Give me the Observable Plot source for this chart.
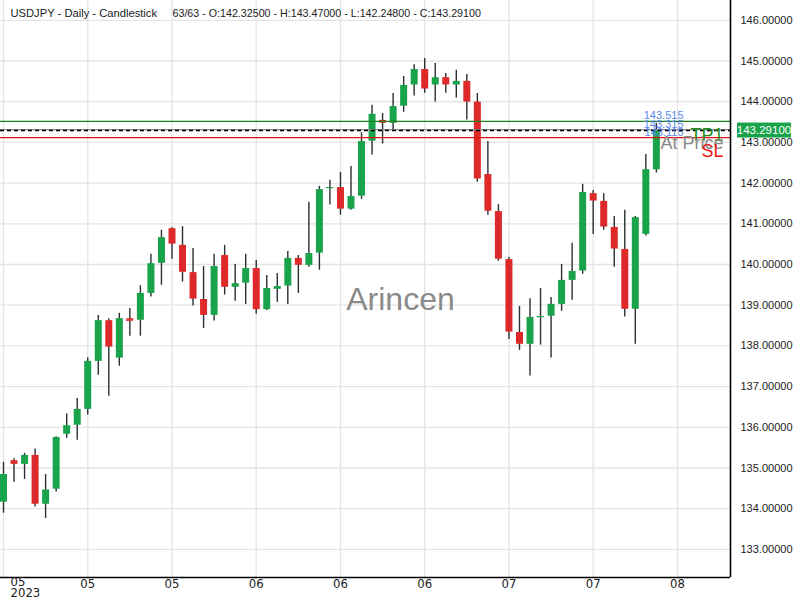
<!DOCTYPE html>
<html><head><meta charset="utf-8">
<script src="https://cdn.jsdelivr.net/npm/d3@7"></script>
<script src="https://cdn.jsdelivr.net/npm/@observablehq/plot@0.6"></script>
<style>html,body{margin:0;padding:0;background:#fff;}</style>
</head><body><div id="chart"></div>
<script>
// ---- data ----
const opens  = [134.16,135.18,135.09,135.31,134.11,134.48,135.83,136.05,136.44,137.62,138.62,137.70,138.67,138.63,139.29,140.03,140.88,140.47,139.80,139.14,138.75,140.22,139.44,139.54,139.90,138.89,139.39,139.47,140.15,139.98,140.28,141.87,141.89,141.36,141.68,143.03,143.54,143.47,143.89,144.41,144.79,144.41,144.59,144.41,144.50,143.99,142.21,141.30,140.12,138.33,138.04,138.70,138.73,139.02,139.61,139.84,141.74,141.55,140.91,140.37,138.90,140.74,142.325];
const highs  = [135.14,135.23,135.36,135.47,134.84,135.77,136.33,136.71,137.71,138.75,138.67,138.80,138.92,139.48,140.25,140.84,140.91,140.93,140.39,139.95,140.25,140.47,140.00,140.25,140.10,139.73,139.78,140.32,140.22,141.53,141.92,142.07,142.26,142.41,143.24,143.91,143.71,144.20,144.62,144.91,145.06,144.94,144.69,144.77,144.67,144.20,143.02,141.47,140.17,138.97,139.16,139.41,139.19,140.00,140.52,141.97,141.82,141.74,141.18,141.33,141.18,142.70,143.47];
const lows   = [133.89,134.65,134.72,134.04,133.76,134.41,135.73,135.68,136.30,137.28,136.76,137.50,138.24,138.24,139.20,139.49,140.13,139.57,138.98,138.43,138.61,139.25,139.10,139.02,138.78,138.87,139.07,139.02,139.29,139.93,139.86,141.46,141.21,141.33,141.60,142.69,142.96,143.30,143.74,144.14,144.21,143.99,144.21,144.09,143.55,142.02,141.21,140.08,138.16,137.89,137.26,138.02,137.70,138.85,139.12,139.76,140.74,140.84,139.93,138.71,138.04,140.70,142.248];
const closes = [134.84,135.09,135.31,134.11,134.46,135.75,136.04,136.44,137.62,138.62,137.97,138.67,138.63,139.29,140.02,140.66,140.50,139.81,139.15,138.75,139.95,139.44,139.53,139.90,138.89,139.41,139.46,140.15,139.98,140.27,141.84,141.89,141.36,141.67,143.02,143.69,143.47,143.88,144.40,144.79,144.31,144.59,144.41,144.50,143.99,142.10,141.31,140.13,138.34,138.04,138.70,138.72,139.02,139.61,139.83,141.77,141.56,140.92,140.38,138.90,141.15,142.33,143.291];

const xTickIndex  = [0, 8, 16, 24, 32, 40, 48, 56, 64];
const xTickLabels = ["05\n2023", "05", "05", "06", "06", "06", "07", "07", "08"];
const yTicks = [133,134,135,136,137,138,139,140,141,142,143,144,145,146];

const levelNames  = ["TP1", "At Price", "SL"];
const levelValues = [143.515, 143.315, 143.115];
const levelColors = ["#1b7f1b", "#8a8a8a", "#e31010"];
const levelTextColors = ["#1f8c1f", "#8a8a8a", "#f01515"];
const currentPrice = 143.291;
const titleParts = ["USDJPY - Daily - Candlestick", "63/63 - O:142.32500 - H:143.47000 - L:142.24800 - C:143.29100"];
const watermark = "Arincen";

// ---- build table ----
const candles = opens.map((o, i) => ({i, open: o, high: highs[i], low: lows[i], close: closes[i], up: closes[i] >= o}));
const dojis = candles.filter(d => Math.abs(d.close - d.open) < 0.04);
const levels = levelNames.map((n, k) => ({name: n, value: levelValues[k], color: levelColors[k], tcolor: levelTextColors[k]}));
const xTicks = xTickIndex.map((i, k) => ({i, label: xTickLabels[k]}));

const GREEN = "#19a34b", RED = "#dd2929", WICK = "#2b2f33";
const narrow = "'Liberation Sans Narrow', 'DejaVu Sans Condensed', 'Liberation Sans', sans-serif";

const plot = Plot.plot({
  width: 800, height: 600,
  marginTop: 0, marginBottom: 23, marginLeft: 0, marginRight: 70,
  style: {fontFamily: "'Liberation Sans', Arial, sans-serif", fontSize: "11px", background: "#fff", color: "#222"},
  x: {domain: [-0.285, 69.04], axis: null},
  y: {domain: [132.31, 146.486], axis: null},
  marks: [
    // grid
    Plot.ruleY(yTicks, {stroke: "#e4e4e4", strokeWidth: 1.3}),
    Plot.ruleX(xTickIndex, {stroke: "#e4e4e4", strokeWidth: 1.3}),
    // watermark
    Plot.text([watermark], {frameAnchor: "middle", dx: 35, dy: 11, fontSize: 32, fill: "#7a7a7a", fillOpacity: 0.9}),
    // wicks
    Plot.ruleX(candles, {x: "i", y1: "low", y2: "high", stroke: WICK, strokeWidth: 1.4}),
    // bodies
    Plot.ruleX(candles, {x: "i", y1: "open", y2: "close", stroke: d => d.up ? GREEN : RED, strokeWidth: 7}),
    Plot.ruleY(dojis, {y: "close", x1: d => d.i - 0.33, x2: d => d.i + 0.33, stroke: d => d.up ? GREEN : RED, strokeWidth: 1.2}),
    // level lines
    Plot.ruleY(levels, {y: "value", stroke: "color", strokeWidth: 1.3}),
    Plot.ruleY([currentPrice], {stroke: "#000", strokeWidth: 1.6, strokeDasharray: "4,3"}),
    // level value labels
    Plot.text(levels, {y: "value", text: d => d.value.toFixed(3), frameAnchor: "right", textAnchor: "end", dx: -47, dy: -2, lineAnchor: "bottom", fill: "#5a87ee", fontSize: 11}),
    // level names
    Plot.text(levels, {y: "value", text: "name", frameAnchor: "right", textAnchor: "end", dx: -7, dy: 14, lineAnchor: "middle", fill: "tcolor", fontSize: 18}),
    // axes lines
    Plot.ruleY([132.31], {stroke: "#000", strokeWidth: 1.6}),
    Plot.ruleX([69.04], {stroke: "#000", strokeWidth: 1.6}),
    // right axis labels
    Plot.axisY({anchor: "right", ticks: yTicks, tickFormat: d => d.toFixed(5), tickSize: 0, tickPadding: 10, fontSize: 11, fill: "#222"}),
    // bottom labels
    Plot.text(xTicks.filter(d => d.i > 0), {x: "i", text: "label", frameAnchor: "bottom", lineAnchor: "top", dy: 1, fontSize: 13, fontFamily: narrow, fill: "#222"}),
    Plot.text(xTicks.filter(d => d.i === 0), {x: "i", text: "label", frameAnchor: "bottom", lineAnchor: "top", textAnchor: "start", dx: 7, dy: 1, fontSize: 13, fontFamily: narrow, fill: "#222", lineHeight: 0.85}),
    // title (two parts)
    Plot.text([titleParts[0]], {frameAnchor: "top-left", textAnchor: "start", lineAnchor: "middle", dx: 10, dy: 13, fontSize: 11.2, fill: "#222"}),
    Plot.text([titleParts[1]], {frameAnchor: "top-left", textAnchor: "start", lineAnchor: "middle", dx: 172, dy: 13, fontSize: 10.7, fill: "#222"})
  ]
});

document.getElementById("chart").appendChild(plot);

// current price tag on the right axis
const svg = d3.select(plot);
const yc = plot.scale("y").apply(currentPrice);
const xr = plot.scale("x").apply(69.04);
const tag = svg.append("g");
tag.append("rect").attr("x", xr + 7).attr("y", yc - 7.5).attr("width", 54).attr("height", 15).attr("fill", GREEN);
tag.append("text").attr("x", xr + 34).attr("y", yc).attr("dy", "0.36em").attr("text-anchor", "middle")
  .attr("fill", "#fff").attr("font-size", 11.5).text(currentPrice.toFixed(5));
</script>
</body></html>
